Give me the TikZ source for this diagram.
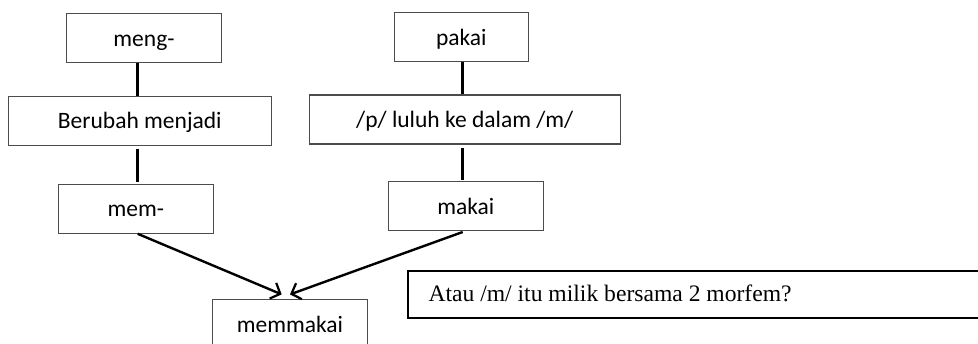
\documentclass[tikz,border=0pt]{standalone}
\usepackage{fontspec}
\setmainfont{Carlito}
\newfontfamily\serifont{Liberation Serif}
\usetikzlibrary{arrows.meta,calc}
\begin{document}
\begin{tikzpicture}[x=1pt,y=-1pt,
  box/.style={draw=black!70, line width=1.2pt, rectangle, inner sep=0pt, minimum height=49pt,
    text height=20pt, text depth=3.6pt,
    font=\fontsize{23.5}{28}\selectfont},
  conn/.style={line width=2.6pt, black},
  arr/.style={line width=2.4pt, black, -{Straight Barb[length=8pt,width=17pt,line width=2.2pt]}}]
\clip (0,0) rectangle (978,343);
\fill[white] (0,0) rectangle (978,343);
\node[box, minimum width=155pt] (meng) at (144,38.3) {meng-};
\node[box, minimum width=263pt] (berubah) at (139.8,120.7) {Berubah menjadi};
\node[box, minimum width=155pt] (mem) at (135.8,208.7) {mem-};
\node[box, minimum width=134pt] (pakai) at (461.3,37.2) {pakai};
\node[box, minimum width=311pt] (luluh) at (464.8,119.5) {/p/ luluh ke dalam /m/};
\node[box, minimum width=155pt] (makai) at (465.8,206.3) {makai};
\node[box, minimum width=155pt, minimum height=50pt] (memmakai) at (290,324.3) {memmakai};
\node[draw=black, line width=2pt, rectangle, anchor=west, inner sep=0pt,
  minimum height=47pt, minimum width=600pt] (ataubox) at (406.7,294.2) {};
\node[anchor=base west, inner sep=0pt, font=\serifont\fontsize{23.6}{28}\selectfont] (atau)
  at (428.3,301.7) {Atau /m/ itu milik bersama 2 morfem?};
\draw[conn] ([xshift=-6.7pt]meng.south) -- ([xshift=-2.5pt]berubah.north);
\draw[conn, shorten <=3.5pt, shorten >=2pt] ([xshift=-2.5pt]berubah.south) -- ([xshift=1.5pt]mem.north);
\draw[conn] ([xshift=1.4pt]pakai.south) -- ([xshift=-2.1pt]luluh.north);
\draw[conn, shorten <=3.5pt, shorten >=1pt] ([xshift=-2.1pt]luluh.south) -- ([xshift=-3.1pt]makai.north);
\coordinate (tipL) at ($(memmakai.north)+(-8.3,-4.3)$);
\coordinate (tipR) at ($(memmakai.north)+(0,-4.3)$);
\draw[arr] ([xshift=1.9pt]mem.south) -- (tipL);
\draw[arr] ([xshift=-3.1pt,yshift=-0.6pt]makai.south) -- (tipR);
\end{tikzpicture}
\end{document}
